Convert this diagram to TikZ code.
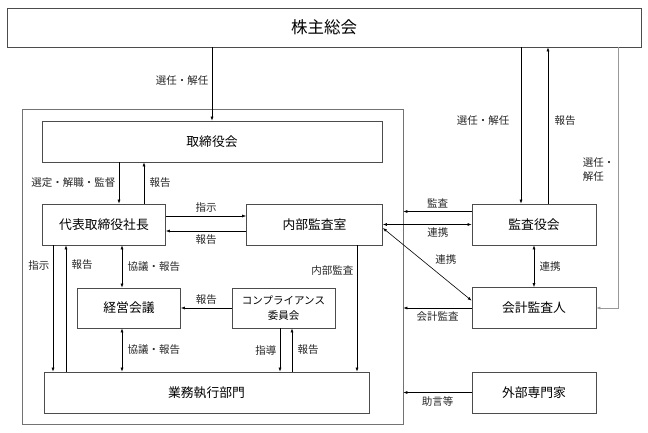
\documentclass[tikz,border=0pt]{standalone}
\usepackage{fontspec}
\setmainfont{Noto Sans CJK JP}
\usetikzlibrary{arrows.meta}

\begin{document}
\begin{tikzpicture}
[x=1pt,y=-1pt,
 box/.style={draw=black!70,line width=.7pt,inner sep=0pt,
             font=\fontsize{12.8}{15}\selectfont},
 lbl/.style={font=\fontsize{10.5}{14}\selectfont,text=black!85},
 arr/.style={-{Latex[length=4pt,width=3pt]},line width=.6pt},
 dbl/.style={{Latex[length=4pt,width=3pt]}-{Latex[length=4pt,width=3pt]},
             line width=.6pt}]
\useasboundingbox (0,0) rectangle (648,432);
% boxes
\node[box,minimum width=634pt,minimum height=39pt,
      font=\fontsize{16.5}{19}\selectfont] (soukai) at (324,27.5) {株主総会};
\node[draw=black!55,line width=.7pt,minimum width=381pt,
      minimum height=315pt] (frame) at (212.5,266.5) {};
\node[box,minimum width=340pt,minimum height=41pt] (torishimari) at (212,141.5) {取締役会};
\node[box,minimum width=123pt,minimum height=41pt] (shacho) at (104,224.5) {代表取締役社長};
\node[box,minimum width=136pt,minimum height=41pt] (naibu) at (314.5,224.5) {内部監査室};
\node[box,minimum width=103pt,minimum height=40pt] (keiei) at (129,308) {経営会議};
\node[box,minimum width=103pt,minimum height=40pt,align=center,
      font=\fontsize{10.5}{15}\selectfont] (comp) at (283.5,308) {コンプライアンス\\委員会};
\node[box,minimum width=325pt,minimum height=41pt] (gyomu) at (206.5,392.5) {業務執行部門};
\node[box,minimum width=124pt,minimum height=41pt] (kansayaku) at (534,224.5) {監査役会};
\node[box,minimum width=124pt,minimum height=41pt] (kaikei) at (534,308) {会計監査人};
\node[box,minimum width=124pt,minimum height=41pt] (gaibu) at (534,392.5) {外部専門家};
% inside the company
\draw[arr] (torishimari.north |- soukai.south) -- node[lbl,left,pos=.45] {選任・解任} (torishimari.north);
\draw[arr] ([xshift=15pt]shacho.north |- torishimari.south) -- node[lbl,left] {選定・解職・監督} ([xshift=15pt]shacho.north);
\draw[arr] ([xshift=40pt]shacho.north) -- node[lbl,right,xshift=2pt] {報告} ([xshift=40pt]shacho.north |- torishimari.south);
\draw[arr] ([yshift=8.5pt]shacho.east) -- node[lbl,above] {指示} ([yshift=8.5pt]shacho.east -| naibu.west);
\draw[arr] ([yshift=-6.5pt]naibu.west) -- node[lbl,below] {報告} ([yshift=-6.5pt]naibu.west -| shacho.east);
\draw[arr] ([xshift=-51pt]shacho.south) -- node[lbl,left,pos=.16] {指示} ([xshift=-51pt]shacho.south |- gyomu.north);
\draw[arr] ([xshift=-38pt]shacho.south |- gyomu.north) -- node[lbl,right,pos=.85,xshift=2pt] {報告} ([xshift=-38pt]shacho.south);
\draw[dbl] ([xshift=18pt]shacho.south) -- node[lbl,right,xshift=2pt] {協議・報告} ([xshift=18pt]shacho.south |- keiei.north);
\draw[dbl] ([xshift=18pt]shacho.south |- keiei.south) -- node[lbl,right,xshift=2pt] {協議・報告} ([xshift=18pt]shacho.south |- gyomu.north);
\draw[arr] (comp.west) -- node[lbl,above] {報告} (keiei.east);
\draw[arr] ([xshift=-3.5pt]comp.south) -- node[lbl,left] {指導} ([xshift=-3.5pt]comp.south |- gyomu.north);
\draw[arr] ([xshift=8.5pt]comp.south |- gyomu.north) -- node[lbl,right,xshift=2pt] {報告} ([xshift=8.5pt]comp.south);
\draw[arr] ([xshift=42.5pt]naibu.south) -- node[lbl,left,pos=.2] {内部監査} ([xshift=42.5pt]naibu.south |- gyomu.north);
% auditors and outside
\draw[arr] ([xshift=-13pt]kansayaku.north |- soukai.south) -- node[lbl,left,pos=.47,xshift=-8pt] {選任・解任} ([xshift=-13pt]kansayaku.north);
\draw[arr] ([xshift=14pt]kansayaku.north) -- node[lbl,right,pos=.53,xshift=3pt] {報告} ([xshift=14pt]kansayaku.north |- soukai.south);
\draw[arr] ([yshift=13pt]kansayaku.west) -- node[lbl,above] {監査} ([yshift=13pt]kansayaku.west -| frame.east);
\draw[dbl] (naibu.east) -- node[lbl,below,pos=.62] {連携} (naibu.east -| kansayaku.west);
\draw[dbl] ([yshift=-3.5pt]naibu.east) -- node[lbl,above right,pos=.55] {連携} ([yshift=-13.5pt]kaikei.north west);
\draw[dbl] (kansayaku.south) -- node[lbl,right,xshift=2pt] {連携} (kaikei.north);
\draw[arr] (kaikei.west) -- node[lbl,below] {会計監査} (kaikei.west -| frame.east);
\draw[arr] (gaibu.west) -- node[lbl,below] {助言等} (gaibu.west -| frame.east);
\coordinate (kaikeiR) at (618,308);
\draw[arr,draw=black!40] (kaikeiR |- soukai.south) -- node[lbl,left,pos=.47,align=left] {選任・\\解任} (kaikeiR) -- (kaikei.east);
\end{tikzpicture}
\end{document}
